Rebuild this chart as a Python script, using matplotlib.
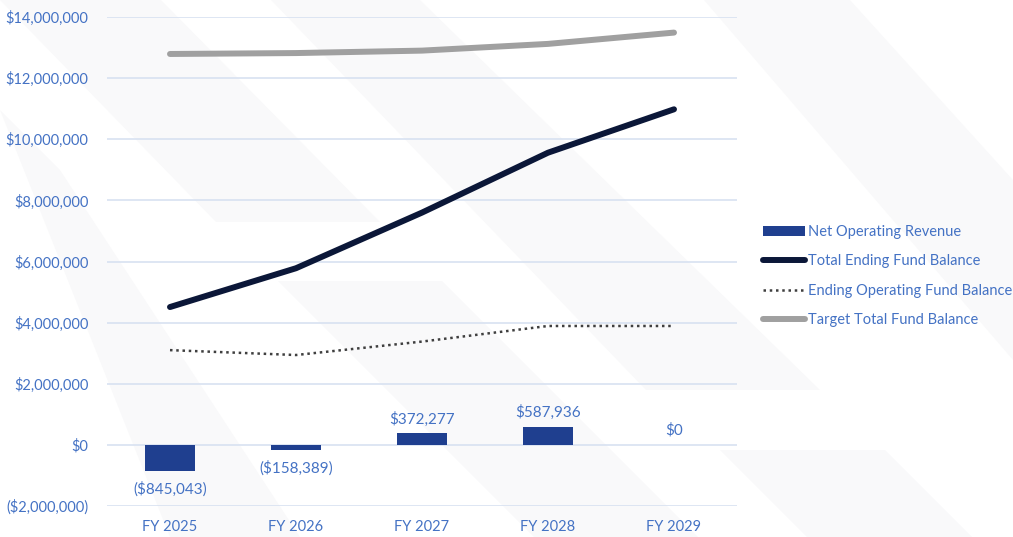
import matplotlib
matplotlib.use("Agg")
import matplotlib.pyplot as plt
from matplotlib.patches import Polygon
from matplotlib.ticker import FuncFormatter

plt.rcParams['font.family'] = ['Lato', 'DejaVu Sans']

categories = ["FY 2025", "FY 2026", "FY 2027", "FY 2028", "FY 2029"]
net_operating_revenue = [-845043, -158389, 372277, 587936, 0]
total_ending_fund_balance = [4510000, 5780000, 7600000, 9560000, 10980000]
ending_operating_fund_balance = [3100000, 2940000, 3380000, 3890000, 3890000]
target_total_fund_balance = [12790000, 12820000, 12900000, 13120000, 13490000]
y_ticks = [-2000000, 0, 2000000, 4000000, 6000000, 8000000, 10000000, 12000000, 14000000]

TEXT = '#4472C4'
BAR = '#1F3F8F'
NAVY = '#0B1738'
GREY = '#A0A0A0'
DOTS = '#3F3F3F'
GRID = '#D5DFF0'

W, H = 1013, 537
fig = plt.figure(figsize=(W / 100, H / 100), dpi=100)
fig.patch.set_facecolor('white')

# decorative background stripes (pixel coordinates, y down)
bg = fig.add_axes([0, 0, 1, 1], zorder=-5)
bg.set_xlim(0, W)
bg.set_ylim(H, 0)
bg.axis('off')
stripes = [
    [(0, 0), (161, 0), (380, 222), (216, 222)],
    [(271, 0), (420, 0), (820, 390), (646, 390)],
    [(278, 281), (442, 281), (698, 537), (534, 537)],
    [(720, 450), (885, 450), (972, 537), (807, 537)],
    [(704, 0), (850, 0), (1013, 180), (1013, 360)],
    [(0, 110), (60, 170), (300, 537), (170, 537)],
]
for s in stripes:
    bg.add_patch(Polygon(s, closed=True, facecolor='#F9F9FA', edgecolor='none'))

ax = fig.add_axes([107 / W, 1 - 506 / H, (737 - 107) / W, (506 - 17) / H])
ax.patch.set_alpha(0)
x = list(range(len(categories)))

ax.set_ylim(-2000000, 14000000)
ax.set_xlim(-0.5, len(categories) - 0.5)
ax.set_yticks(y_ticks)
ax.grid(axis='y', color=GRID, linewidth=1.1, zorder=0)
ax.set_axisbelow(True)
for sp in ax.spines.values():
    sp.set_visible(False)


def money(v, pos=None):
    if v < 0:
        return "(${:,.0f})".format(-v)
    return "${:,.0f}".format(v)


ax.yaxis.set_major_formatter(FuncFormatter(money))
ax.tick_params(axis='both', length=0, labelsize=10.5, labelcolor=TEXT)
ax.tick_params(axis='y', pad=13.5)
ax.tick_params(axis='x', pad=10)
ax.set_xticks(x)
ax.set_xticklabels(categories)

bars = ax.bar(x, net_operating_revenue, width=0.4, color=BAR, zorder=3,
              label='Net Operating Revenue')
ax.plot(x, total_ending_fund_balance, color=NAVY, lw=4.3, solid_capstyle='round',
        solid_joinstyle='round', zorder=4, label='Total Ending Fund Balance')
ax.plot(x, ending_operating_fund_balance, color=DOTS, lw=1.8, linestyle=(0, (1, 1.5)),
        zorder=4, label='Ending Operating Fund Balance')
ax.plot(x, target_total_fund_balance, color=GREY, lw=4.3, solid_capstyle='round',
        solid_joinstyle='round', zorder=4, label='Target Total Fund Balance')

for xi, v in zip(x, net_operating_revenue):
    if v < 0:
        ax.annotate(money(v), (xi, v), xytext=(0, -8), textcoords='offset points',
                    ha='center', va='top', fontsize=11, color=TEXT)
    else:
        ax.annotate(money(v), (xi, v), xytext=(0, 5),
                    textcoords='offset points', ha='center', va='bottom',
                    fontsize=11, color=TEXT)

handles, labels = ax.get_legend_handles_labels()
order = [labels.index(l) for l in ['Net Operating Revenue', 'Total Ending Fund Balance',
                                    'Ending Operating Fund Balance', 'Target Total Fund Balance']]
leg = fig.legend([handles[i] for i in order], [labels[i] for i in order],
                 loc='upper left', bbox_to_anchor=(763 / W, 1 - 225 / H),
                 frameon=False, fontsize=10.5, labelcolor=TEXT, handlelength=2.9,
                 handletextpad=0.2, labelspacing=1.05, borderaxespad=0, borderpad=0)

fig.savefig('out.png', dpi=100, facecolor='white')
